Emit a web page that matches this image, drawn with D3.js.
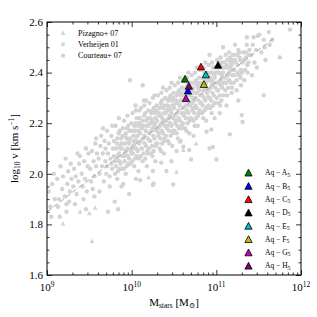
<!DOCTYPE html>
<html>
<head>
<meta charset="utf-8">
<script src="https://cdn.jsdelivr.net/npm/d3@7"></script>
<style>
  body { margin: 0; background: #fff; }
  text { font-family: "Liberation Serif", "DejaVu Serif", serif; fill: #000; }
</style>
</head>
<body>
<svg width="317" height="317"></svg>
<script>
// Tully-Fisher: log10 M_stars vs log10 v (valori letti a occhio dal grafico)

// Courteau+07 (cerchi) [logM, logV]
const courteau = [
  [9.02,1.93],[9.04,1.87],[9.06,1.96],[9.08,2.00],[9.05,1.83],[9.09,1.90],
  [9.12,1.98],[9.14,1.90],[9.16,2.03],[9.15,1.83],[9.18,1.94],[9.13,1.87],[9.19,1.99],[9.23,1.85],
  [9.21,1.91],[9.22,2.06],[9.24,1.96],[9.25,2.01],[9.27,1.93],[9.23,1.88],[9.28,2.04],[9.26,1.89],[9.29,1.98],
  [9.31,1.95],[9.32,2.02],[9.34,1.99],[9.36,2.08],[9.35,1.92],[9.38,2.04],[9.33,1.88],[9.37,1.97],[9.39,2.07],
  [9.41,2.00],[9.42,1.95],[9.44,2.05],[9.45,1.98],[9.46,2.10],[9.47,1.93],[9.48,2.03],[9.43,1.90],[9.49,2.08],[9.46,1.86],
  [9.51,2.02],[9.52,1.97],[9.53,2.09],[9.55,2.05],[9.56,1.99],[9.57,2.12],[9.58,2.03],[9.54,1.94],[9.59,2.08],[9.56,1.91],[9.58,2.14],
  [9.61,2.06],[9.62,2.00],[9.63,2.11],[9.64,2.15],[9.65,2.03],[9.66,2.08],[9.67,1.97],[9.68,2.13],[9.69,2.05],[9.62,1.93],[9.66,2.18],[9.69,2.10],
  [9.71,2.03],[9.72,2.08],[9.73,2.12],[9.74,1.99],[9.75,2.06],[9.76,2.15],[9.77,2.02],[9.78,2.10],[9.79,2.07],[9.71,2.17],[9.74,1.95],[9.77,2.19],[9.79,2.13],[9.72,1.85],[9.76,2.04],
  [9.81,2.05],[9.82,2.10],[9.83,2.14],[9.84,2.01],[9.85,2.08],[9.86,2.17],[9.87,2.04],[9.88,2.12],[9.89,2.07],[9.81,2.19],[9.83,1.98],[9.85,2.22],[9.87,2.10],[9.89,2.15],[9.82,2.06],[9.86,2.02],[9.80,1.89],[9.84,1.86],[9.88,1.95],
  [9.91,2.07],[9.92,2.12],[9.93,2.16],[9.94,2.03],[9.95,2.10],[9.96,2.19],[9.97,2.06],[9.98,2.14],[9.99,2.09],[9.91,2.21],[9.93,2.00],[9.95,2.23],[9.97,2.12],[9.99,2.17],[9.92,2.08],[9.96,2.04],[9.94,2.14],[9.98,2.37],[9.90,1.96],[9.97,1.92],
  [10.01,2.10],[10.02,2.15],[10.03,2.19],[10.04,2.06],[10.05,2.13],[10.06,2.22],[10.07,2.09],[10.08,2.17],[10.09,2.12],[10.01,2.24],[10.03,2.03],[10.05,2.25],[10.07,2.15],[10.09,2.20],[10.02,2.11],[10.06,2.07],[10.04,2.17],[10.08,2.01],[10.00,2.08],[10.05,1.98],[10.09,2.25],[10.10,1.975],
  [10.11,2.13],[10.12,2.18],[10.13,2.21],[10.14,2.08],[10.15,2.15],[10.16,2.24],[10.17,2.11],[10.18,2.19],[10.19,2.14],[10.11,2.26],[10.13,2.05],[10.15,2.27],[10.17,2.17],[10.19,2.22],[10.12,2.10],[10.16,2.06],[10.14,2.19],[10.18,2.03],[10.13,2.35],[10.10,2.16],[10.17,2.29],[10.19,2.08],
  [10.21,2.16],[10.22,2.20],[10.23,2.24],[10.24,2.11],[10.25,2.18],[10.26,2.26],[10.27,2.14],[10.28,2.22],[10.29,2.17],[10.21,2.28],[10.23,2.08],[10.25,2.30],[10.27,2.19],[10.29,2.25],[10.22,2.13],[10.26,2.09],[10.24,2.21],[10.28,2.05],[10.20,2.19],[10.27,2.31],[10.29,2.12],[10.25,2.011],[10.25,1.956],[10.26,1.962],
  [10.31,2.18],[10.32,2.23],[10.33,2.26],[10.34,2.14],[10.35,2.20],[10.36,2.29],[10.37,2.16],[10.38,2.24],[10.39,2.19],[10.31,2.31],[10.33,2.10],[10.35,2.32],[10.37,2.21],[10.39,2.27],[10.32,2.16],[10.36,2.12],[10.34,2.23],[10.38,2.08],[10.30,2.21],[10.37,2.34],[10.39,2.14],[10.35,2.044],
  [10.41,2.21],[10.42,2.25],[10.43,2.29],[10.44,2.17],[10.45,2.23],[10.46,2.31],[10.47,2.19],[10.48,2.27],[10.49,2.22],[10.41,2.33],[10.43,2.13],[10.45,2.34],[10.47,2.24],[10.49,2.30],[10.42,2.19],[10.46,2.15],[10.44,2.26],[10.48,2.11],[10.40,2.24],[10.47,2.36],[10.49,2.17],[10.47,2.05],[10.41,2.011],[10.49,1.958],
  [10.51,2.23],[10.52,2.28],[10.53,2.31],[10.54,2.19],[10.55,2.25],[10.56,2.33],[10.57,2.21],[10.58,2.29],[10.59,2.24],[10.51,2.35],[10.53,2.16],[10.55,2.36],[10.57,2.27],[10.59,2.32],[10.52,2.21],[10.56,2.18],[10.54,2.28],[10.58,2.13],[10.50,2.26],[10.57,2.38],[10.59,2.19],[10.53,2.09],[10.57,2.127],
  [10.61,2.26],[10.62,2.30],[10.63,2.33],[10.64,2.22],[10.65,2.27],[10.66,2.35],[10.67,2.24],[10.68,2.31],[10.69,2.27],[10.61,2.37],[10.63,2.18],[10.65,2.38],[10.67,2.29],[10.69,2.34],[10.62,2.24],[10.66,2.20],[10.64,2.30],[10.68,2.16],[10.60,2.29],[10.67,2.40],[10.69,2.22],[10.61,2.107],[10.68,2.094],[10.70,2.057],
  [10.71,2.28],[10.72,2.33],[10.73,2.36],[10.74,2.24],[10.75,2.30],[10.76,2.37],[10.77,2.26],[10.78,2.34],[10.79,2.29],[10.71,2.39],[10.73,2.21],[10.75,2.40],[10.77,2.32],[10.79,2.36],[10.72,2.26],[10.76,2.22],[10.74,2.32],[10.78,2.19],[10.70,2.31],[10.77,2.42],[10.79,2.24],[10.73,2.15],
  [10.81,2.31],[10.82,2.35],[10.83,2.38],[10.84,2.27],[10.85,2.33],[10.86,2.40],[10.87,2.29],[10.88,2.36],[10.89,2.32],[10.81,2.41],[10.83,2.24],[10.85,2.42],[10.87,2.34],[10.89,2.38],[10.82,2.28],[10.86,2.25],[10.84,2.35],[10.88,2.21],[10.80,2.33],[10.87,2.44],[10.89,2.26],[10.885,2.166],
  [10.91,2.33],[10.92,2.37],[10.93,2.40],[10.94,2.29],[10.95,2.35],[10.96,2.42],[10.97,2.31],[10.98,2.38],[10.99,2.34],[10.91,2.43],[10.93,2.26],[10.95,2.44],[10.97,2.36],[10.99,2.40],[10.92,2.30],[10.96,2.27],[10.94,2.37],[10.98,2.22],[10.96,2.106],[10.92,2.10],[10.92,2.47],[10.94,2.175],
  [11.01,2.36],[11.02,2.40],[11.03,2.42],[11.04,2.31],[11.05,2.37],[11.06,2.44],[11.07,2.34],[11.08,2.40],[11.09,2.36],[11.01,2.45],[11.03,2.28],[11.05,2.46],[11.07,2.38],[11.09,2.42],[11.02,2.33],[11.06,2.29],[11.00,2.057],[11.04,2.24],[11.08,2.50],
  [11.11,2.38],[11.12,2.42],[11.13,2.45],[11.14,2.34],[11.15,2.40],[11.16,2.46],[11.17,2.36],[11.18,2.43],[11.19,2.39],[11.11,2.47],[11.13,2.31],[11.15,2.48],[11.17,2.41],[11.19,2.45],[11.16,2.156],[11.12,2.27],[11.18,2.32],
  [11.21,2.41],[11.22,2.45],[11.23,2.47],[11.24,2.37],[11.25,2.43],[11.26,2.49],[11.27,2.39],[11.28,2.45],[11.29,2.41],[11.22,2.51],[11.24,2.33],[11.27,2.48],[11.29,2.35],[11.26,2.29],
  [11.31,2.44],[11.32,2.48],[11.34,2.41],[11.35,2.46],[11.36,2.51],[11.38,2.44],[11.39,2.49],[11.33,2.37],[11.37,2.40],[11.30,2.232],[11.31,2.205],[11.36,2.54],
  [11.41,2.47],[11.43,2.51],[11.45,2.44],[11.47,2.49],[11.44,2.54],[11.48,2.42],[11.42,2.39],[11.49,2.545],
  [11.51,2.55],[11.53,2.48],[11.56,2.31],[11.57,2.50],[11.56,2.53],[11.58,2.45],
  [11.63,2.51],[11.66,2.53],[11.75,2.46],[11.87,2.57],[11.62,2.56]
];

// Courteau+07, parte densa centrale (riempimento del nucleo)
const courteauCore = [
  [9.805,2.00],[9.815,2.03],[9.825,2.12],[9.835,2.07],[9.845,2.16],[9.855,2.05],[9.865,2.11],[9.875,2.14],[9.885,2.02],[9.895,2.18],
  [9.905,2.02],[9.915,2.05],[9.925,2.15],[9.935,2.09],[9.945,2.18],[9.955,2.07],[9.965,2.13],[9.975,2.17],[9.985,2.04],[9.995,2.20],
  [10.005,2.05],[10.015,2.08],[10.025,2.17],[10.035,2.12],[10.045,2.20],[10.055,2.10],[10.065,2.15],[10.075,2.19],[10.085,2.06],[10.095,2.22],[10.045,2.27],
  [10.105,2.07],[10.115,2.10],[10.125,2.19],[10.135,2.14],[10.145,2.23],[10.155,2.12],[10.165,2.17],[10.175,2.21],[10.185,2.09],[10.195,2.25],[10.145,2.29],
  [10.205,2.10],[10.215,2.13],[10.225,2.22],[10.235,2.17],[10.245,2.25],[10.255,2.15],[10.265,2.20],[10.275,2.24],[10.285,2.11],[10.295,2.27],[10.245,2.07],
  [10.305,2.12],[10.315,2.15],[10.325,2.24],[10.335,2.19],[10.345,2.28],[10.355,2.17],[10.365,2.22],[10.375,2.26],[10.385,2.13],[10.395,2.30],[10.345,2.09],
  [10.405,2.15],[10.415,2.18],[10.425,2.27],[10.435,2.22],[10.445,2.30],[10.455,2.20],[10.465,2.25],[10.475,2.29],[10.485,2.16],[10.495,2.32],[10.445,2.12],
  [10.505,2.17],[10.515,2.20],[10.525,2.29],[10.535,2.24],[10.545,2.32],[10.555,2.22],[10.565,2.27],[10.575,2.31],[10.585,2.18],[10.595,2.34],[10.545,2.14],
  [10.605,2.20],[10.615,2.23],[10.625,2.31],[10.635,2.27],[10.645,2.34],[10.655,2.25],[10.665,2.29],[10.675,2.33],[10.685,2.21],[10.695,2.36],[10.645,2.17],
  [10.705,2.22],[10.715,2.25],[10.725,2.34],[10.735,2.29],[10.745,2.36],[10.755,2.27],[10.765,2.32],[10.775,2.35],[10.785,2.23],[10.795,2.38],[10.745,2.19],
  [10.805,2.25],[10.815,2.28],[10.825,2.36],[10.835,2.31],[10.845,2.38],[10.855,2.30],[10.865,2.34],[10.875,2.37],[10.885,2.26],[10.895,2.40],[10.845,2.22],
  [10.905,2.27],[10.915,2.30],[10.925,2.38],[10.935,2.34],[10.945,2.40],[10.955,2.32],[10.965,2.36],[10.975,2.39],[10.985,2.28],[10.995,2.42],[10.945,2.24],
  [11.005,2.30],[11.015,2.33],[11.025,2.40],[11.035,2.36],[11.045,2.43],[11.055,2.35],[11.065,2.39],[11.075,2.42],[11.085,2.31],[11.095,2.44],[11.045,2.27],
  [11.105,2.33],[11.115,2.36],[11.125,2.43],[11.135,2.39],[11.145,2.45],[11.155,2.37],[11.165,2.42],[11.175,2.44],[11.185,2.34],[11.195,2.47],
  [11.205,2.36],[11.215,2.39],[11.225,2.44],[11.245,2.47],[11.255,2.40],[11.275,2.46],[11.285,2.38],
  [11.305,2.40],[11.325,2.45],[11.345,2.48],[11.365,2.43],[11.385,2.47]
];

// Pizagno+07 (triangolini)
const pizagno = [
  [9.53,1.734],[9.19,1.804],[9.39,1.85],[9.50,1.844],[9.57,1.866],
  [10.61,2.094],[10.20,1.986],[10.53,2.008],[10.76,2.12],[10.35,2.27],[10.75,2.26],
  [10.05,2.14],[9.90,2.10],[11.05,2.40],[10.90,2.31]
];

// Verheijen 01 (quadrati)
const verheijen = [
  [9.70,2.00],[10.02,2.13],[10.28,2.20],[10.50,2.27],[10.72,2.30],[10.95,2.36],[11.15,2.42]
];

// Simulazioni Aquarius
const aqNames  = ["A", "B", "C", "D", "E", "F", "G", "H"];
const aqColors = ["#008000", "#0000ff", "#ff0000", "#000000", "#00bfbf", "#bfbf00", "#bf00bf", "#800080"];
const aqMass   = [10.63, 10.665, 10.818, 11.02, 10.877, 10.853, 10.641, 10.676];
const aqV      = [2.375, 2.328, 2.423, 2.430, 2.392, 2.354, 2.298, 2.347];

// retta di fit tratteggiata
const fitM = [9.0, 11.7];
const fitV = [1.85, 2.541];

const xTickExp = [9, 10, 11, 12];
const yTicks = [1.6, 1.8, 2.0, 2.2, 2.4, 2.6];
const surveyNames = ["Pizagno+ 07", "Verheijen 01", "Courteau+ 07"];

const margin = {left: 47, right: 16, top: 22, bottom: 42};
const width = 317, height = 317;
const gray = "#d3d3d3";

const x = d3.scaleLog().domain([1e9, 1e12]).range([margin.left, width - margin.right]);
const y = d3.scaleLinear().domain([1.6, 2.6]).range([height - margin.bottom, margin.top]);

const svg = d3.select("svg");

svg.append("clipPath").attr("id", "clip")
  .append("rect")
  .attr("x", x.range()[0]).attr("y", y.range()[1])
  .attr("width", x.range()[1] - x.range()[0])
  .attr("height", y.range()[0] - y.range()[1]);

const plot = svg.append("g").attr("clip-path", "url(#clip)");

// punti grigi
plot.append("g").selectAll("circle")
  .data(courteau.concat(courteauCore))
  .join("circle")
  .attr("cx", d => x(Math.pow(10, d[0])))
  .attr("cy", d => y(d[1]))
  .attr("r", 2.2)
  .attr("fill", gray);

plot.append("g").selectAll("rect")
  .data(verheijen)
  .join("rect")
  .attr("x", d => x(Math.pow(10, d[0])) - 1.8)
  .attr("y", d => y(d[1]) - 1.8)
  .attr("width", 3.6).attr("height", 3.6)
  .attr("fill", gray);

const smallTri = "M0,-2.4L2.4,2L-2.4,2Z";
plot.append("g").selectAll("path")
  .data(pizagno)
  .join("path")
  .attr("transform", d => `translate(${x(Math.pow(10, d[0]))},${y(d[1])})`)
  .attr("d", smallTri)
  .attr("fill", gray);

// retta tratteggiata
plot.append("line")
  .attr("x1", x(Math.pow(10, fitM[0]))).attr("y1", y(fitV[0]))
  .attr("x2", x(Math.pow(10, fitM[1]))).attr("y2", y(fitV[1]))
  .attr("stroke", "#a8a8a8")
  .attr("stroke-width", 1)
  .attr("stroke-dasharray", "5,3");

// triangoli Aquarius
const bigTri = "M0,-3.6L3.6,3.2L-3.6,3.2Z";
plot.append("g").selectAll("path")
  .data(aqNames)
  .join("path")
  .attr("transform", (d, i) => `translate(${x(Math.pow(10, aqMass[i]))},${y(aqV[i])})`)
  .attr("d", bigTri)
  .attr("fill", (d, i) => aqColors[i])
  .attr("stroke", "#000")
  .attr("stroke-width", 0.8);

// assi con tick verso l'interno
const xMinor = [];
[9, 10, 11].forEach(e => { for (let k = 2; k <= 9; k++) xMinor.push(k * Math.pow(10, e)); });
const xMajor = xTickExp.map(e => Math.pow(10, e));
const yMinor = d3.range(1.6, 2.601, 0.05).filter(v => !yTicks.some(t => Math.abs(t - v) < 1e-6));

function ticks(axisFn, scale, vals, size, tr) {
  const g = svg.append("g").attr("transform", tr)
    .call(axisFn(scale).tickValues(vals).tickSize(size).tickFormat(""));
  g.select(".domain").remove();
  g.selectAll("line").attr("stroke-width", 0.8);
}
const B = `translate(0,${y.range()[0]})`, T = `translate(0,${y.range()[1]})`;
const L = `translate(${x.range()[0]},0)`, R = `translate(${x.range()[1]},0)`;
ticks(d3.axisBottom, x, xMajor, -5, B); ticks(d3.axisBottom, x, xMinor, -2.5, B);
ticks(d3.axisTop, x, xMajor, -5, T); ticks(d3.axisTop, x, xMinor, -2.5, T);
ticks(d3.axisLeft, y, yTicks, -5, L); ticks(d3.axisLeft, y, yMinor, -2.5, L);
ticks(d3.axisRight, y, yTicks, -5, R); ticks(d3.axisRight, y, yMinor, -2.5, R);

svg.append("rect")
  .attr("x", x.range()[0]).attr("y", y.range()[1])
  .attr("width", x.range()[1] - x.range()[0])
  .attr("height", y.range()[0] - y.range()[1])
  .attr("fill", "none").attr("stroke", "#000").attr("stroke-width", 1);

// etichette dei tick
const xl = svg.append("g").selectAll("text")
  .data(xTickExp)
  .join("text")
  .attr("x", d => x(Math.pow(10, d)))
  .attr("y", 291)
  .attr("text-anchor", "middle")
  .style("font-size", "11px");
xl.append("tspan").text("10");
xl.append("tspan").attr("dy", -4.5).style("font-size", "7.5px").text(d => d);

svg.append("g").selectAll("text")
  .data(yTicks)
  .join("text")
  .attr("x", 43)
  .attr("y", d => y(d) + 3.8)
  .attr("text-anchor", "end")
  .style("font-size", "11px")
  .text(d => d.toFixed(1));

// titoli assi
const xt = svg.append("text")
  .attr("x", 174).attr("y", 306)
  .attr("text-anchor", "middle")
  .style("font-size", "11px");
xt.append("tspan").text("M");
xt.append("tspan").attr("dy", 2).style("font-size", "7.5px").text("stars");
xt.append("tspan").attr("dy", -2).text(" [M");
xt.append("tspan").attr("dy", 2).style("font-size", "7.5px").text("⊙");
xt.append("tspan").attr("dy", -2).text("]");

const yt = svg.append("text")
  .attr("transform", "translate(18,148.5) rotate(-90)")
  .attr("text-anchor", "middle")
  .style("font-size", "11px");
yt.append("tspan").text("log");
yt.append("tspan").attr("dy", 2).style("font-size", "7.5px").text("10");
yt.append("tspan").attr("dy", -2).text(" v [km s");
yt.append("tspan").attr("dy", -4.5).style("font-size", "7.5px").text("−1");
yt.append("tspan").attr("dy", 4.5).text("]");

// legenda in alto a sinistra
const lg = svg.append("g");
surveyNames.forEach((name, i) => {
  const ly = 33 + i * 11.3;
  if (i === 0) lg.append("path").attr("d", smallTri).attr("transform", `translate(63,${ly})`).attr("fill", gray);
  if (i === 1) lg.append("rect").attr("x", 61.2).attr("y", ly - 1.8).attr("width", 3.6).attr("height", 3.6).attr("fill", gray);
  if (i === 2) lg.append("circle").attr("cx", 63).attr("cy", ly).attr("r", 2.2).attr("fill", gray);
  lg.append("text").attr("x", 78).attr("y", ly + 2.8).style("font-size", "8px").text(name);
});

// legenda Aquarius
const ag = svg.append("g");
aqNames.forEach((n, i) => {
  const ly = 172.8 + i * 13.3;
  ag.append("path").attr("d", bigTri).attr("transform", `translate(248.5,${ly})`)
    .attr("fill", aqColors[i]).attr("stroke", "#000").attr("stroke-width", 0.8);
  const t = ag.append("text").attr("x", 265).attr("y", ly + 2.5).style("font-size", "7.5px");
  t.append("tspan").text("Aq − " + n);
  t.append("tspan").attr("dy", 1.2).style("font-size", "6px").text("5");
});
</script>
</body>
</html>
